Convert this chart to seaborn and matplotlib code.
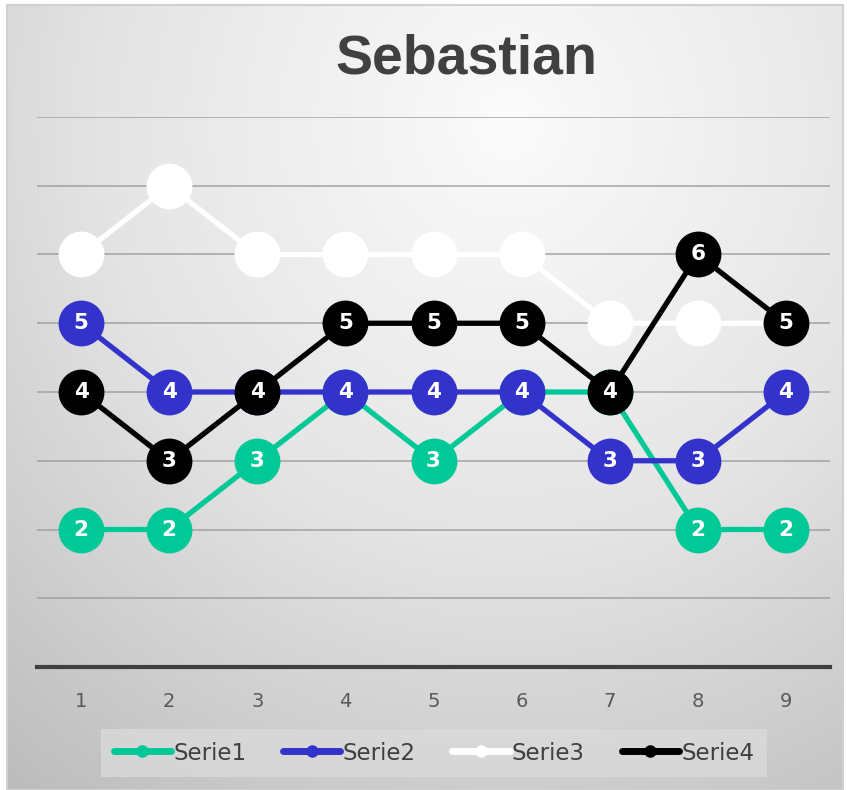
import numpy as np
import pandas as pd
import seaborn as sns
import matplotlib.pyplot as plt
from matplotlib.lines import Line2D

# chart data
x_vals = [1, 2, 3, 4, 5, 6, 7, 8, 9]
serie1 = [2, 2, 3, 4, 3, 4, 4, 2, 2]
serie2 = [5, 4, 4, 4, 4, 4, 3, 3, 4]
serie3 = [6, 7, 6, 6, 6, 6, 5, 5, 5]
serie4 = [4, 3, 4, 5, 5, 5, 4, 6, 5]
series_names = ['Serie1', 'Serie2', 'Serie3', 'Serie4']
colors = ['#00C896', '#3333CC', '#FFFFFF', '#000000']

sns.set_theme(style='white')
plt.rcParams['font.family'] = ['Liberation Sans', 'DejaVu Sans']

W, H = 847, 790
fig = plt.figure(figsize=(W / 100, H / 100), dpi=100)
fig.patch.set_facecolor('white')

# radial gradient background of the chart area (light near top centre)
bg = fig.add_axes([7 / W, 0, 836 / W, 785 / H])
yy, xx = np.mgrid[0:1:400j, 0:1:400j]
r = np.sqrt(((xx - 0.6) * 1.0) ** 2 + ((yy - 0.85) * 0.9) ** 2)
grad = np.clip(r / 1.0, 0, 1)
bg.imshow(grad, cmap=sns.blend_palette(['#fbfbfb', '#e4e4e4', '#bcbcbc'], as_cmap=True),
          extent=[0, 1, 0, 1], aspect='auto', origin='lower')
bg.set_axis_off()
fig.add_artist(plt.Rectangle((7 / W, 0), 836 / W, 785 / H, fill=False,
                             edgecolor='#d0d0d0', linewidth=1.5,
                             transform=fig.transFigure))

ax = fig.add_axes([37 / W, (H - 667) / H, (830 - 37) / W, (667 - 117) / H])
ax.patch.set_alpha(0)

df = pd.DataFrame({'x': x_vals, 'Serie1': serie1, 'Serie2': serie2,
                   'Serie3': serie3, 'Serie4': serie4})

for i, (name, col) in enumerate(zip(series_names, colors)):
    sns.lineplot(data=df, x='x', y=name, ax=ax, color=col, linewidth=3.8,
                 marker='o', markersize=33, markeredgewidth=0, zorder=3 + i)
    for xv, yv in zip(df['x'], df[name]):
        ax.text(xv, yv, str(yv), color='white', fontsize=15.5, fontweight='bold',
                ha='center', va='center', zorder=3 + i, family='DejaVu Sans')

ax.set_xlim(0.5, 9.5)
ax.set_ylim(0, 8)
ax.set_yticks([])
ax.set_xticks(x_vals)
ax.set_xticklabels([str(v) for v in x_vals], color='#595959', fontsize=14,
                   family='DejaVu Sans')
ax.tick_params(axis='x', length=0, pad=18)
for yv in range(1, 9):
    ax.axhline(yv, color='#9a9a9a', linewidth=1.4, alpha=0.7, zorder=1)
for s in ['left', 'top', 'right']:
    ax.spines[s].set_visible(False)
ax.spines['bottom'].set_color('#404040')
ax.spines['bottom'].set_linewidth(3)
ax.set_xlabel('')
ax.set_ylabel('')

fig.text(466 / W, 1 - 59 / H, 'Sebastian', ha='center', va='center',
         fontsize=40, fontweight='bold', color='#404040')

handles = [Line2D([0], [0], color=c, linewidth=5, marker='o', markersize=9,
                  markeredgewidth=0, solid_capstyle='round') for c in colors]
leg = fig.legend(handles, series_names, loc='center',
                 bbox_to_anchor=(434 / W, 1 - 753 / H), ncol=4, frameon=True,
                 fontsize=16.5, handlelength=2.5, handletextpad=0.1,
                 columnspacing=1.6, borderpad=0.55, borderaxespad=0)
leg.get_frame().set_facecolor('#dadada')
leg.get_frame().set_edgecolor('none')
leg.get_frame().set_boxstyle('square', pad=0)
for t in leg.get_texts():
    t.set_color('#404040')
    t.set_family('DejaVu Sans')

fig.savefig('out.png', dpi=100)
